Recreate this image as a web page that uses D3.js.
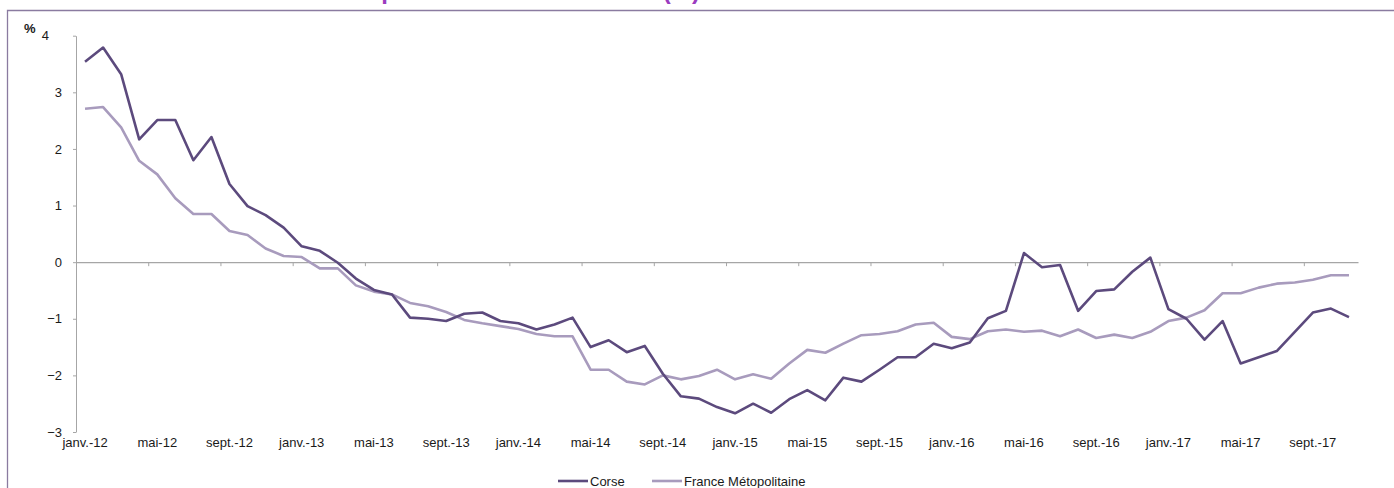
<!DOCTYPE html>
<html>
<head>
<meta charset="utf-8">
<script src="https://cdn.jsdelivr.net/npm/d3@7"></script>
<style>
  body { margin: 0; background: #fff; }
  svg { display: block; font-family: "Liberation Sans", Arial, sans-serif; }
</style>
</head>
<body>
<div id="chart"></div>
<script>
// months (janv.-12 .. nov.-17)
var monthNames = ["janv.", "févr.", "mars", "avr.", "mai", "juin", "juil.", "août", "sept.", "oct.", "nov.", "déc."];
var years = ["12", "13", "14", "15", "16", "17"];
var months = [];
years.forEach(function(y) {
  monthNames.forEach(function(m) { months.push(m + "-" + y); });
});
months = months.slice(0, 71);

// series values (%)
var corse = [3.54, 3.79, 3.32, 2.17, 2.51, 2.51, 1.80, 2.21, 1.38, 0.99, 0.83, 0.61,
             0.28, 0.20, -0.01, -0.29, -0.49, -0.57, -0.98, -1.00, -1.04, -0.91, -0.89, -1.04,
             -1.08, -1.19, -1.10, -0.98, -1.50, -1.38, -1.59, -1.48, -1.97, -2.37, -2.41, -2.56,
             -2.67, -2.50, -2.66, -2.42, -2.26, -2.44, -2.04, -2.11, -1.90, -1.68, -1.68, -1.44,
             -1.52, -1.42, -0.99, -0.86, 0.16, -0.09, -0.05, -0.86, -0.51, -0.48, -0.17, 0.08,
             -0.83, -1.00, -1.37, -1.04, -1.79, -1.68, -1.57, -1.23, -0.89, -0.82, -0.97];
var france = [2.71, 2.74, 2.38, 1.79, 1.55, 1.13, 0.85, 0.85, 0.55, 0.48, 0.24, 0.11,
              0.09, -0.11, -0.11, -0.41, -0.52, -0.57, -0.72, -0.78, -0.88, -1.02, -1.08, -1.13,
              -1.18, -1.27, -1.31, -1.31, -1.90, -1.90, -2.11, -2.16, -2.00, -2.07, -2.01, -1.90,
              -2.07, -1.98, -2.06, -1.79, -1.55, -1.60, -1.44, -1.29, -1.27, -1.22, -1.10, -1.07,
              -1.32, -1.36, -1.22, -1.19, -1.23, -1.21, -1.31, -1.19, -1.34, -1.28, -1.34, -1.23,
              -1.04, -0.98, -0.85, -0.55, -0.55, -0.45, -0.38, -0.36, -0.31, -0.23, -0.23];
var yTicks = [-3, -2, -1, 0, 1, 2, 3, 4];
var seriesNames = ["Corse", "France Métopolitaine"];
var seriesColors = ["#5c4a7d", "#a89bbd"];

var W = 1394, H = 488;
var svg = d3.select("#chart").append("svg")
    .attr("width", W)
    .attr("height", H);

// frame and title (cut off by the top edge, as in the picture)
svg.append("text")
    .attr("x", 700)
    .attr("y", -1)
    .attr("text-anchor", "end")
    .attr("fill", "#9b3cbf")
    .style("font-size", "24px")
    .style("font-weight", "bold")
    .text("Comparaison des évolutions (%)");
svg.append("path")
    .attr("d", "M7.5," + H + "V10.5H" + (W + 2))
    .attr("fill", "none")
    .attr("stroke", "#8a7ba0")
    .attr("stroke-width", 1.3);

var x = d3.scaleBand().domain(months).range([76, 1358]).paddingInner(0).paddingOuter(0);
var xl = d3.scaleLinear().domain([0, months.length]).range([76, 1358]);
var y = d3.scaleLinear().domain([-3, 4]).range([432, 35.7]);

// y axis
var yAxis = svg.append("g")
    .attr("transform", "translate(76,0)")
    .call(d3.axisLeft(y).tickValues(yTicks).tickFormat(d3.format("d"))
      .tickSize(3).tickPadding(11).tickSizeOuter(0));
yAxis.select(".domain").attr("stroke", "#a6a6a6");
yAxis.selectAll(".tick line").attr("stroke", "#a6a6a6");
yAxis.selectAll(".tick text")
    .style("font-size", "13px")
    .attr("fill", "#1a1a1a")
    .attr("dx", function(d) { return d === 4 ? -13 : 0; });

svg.append("text")
    .attr("x", 24)
    .attr("y", 33)
    .style("font-size", "13px")
    .style("font-weight", "bold")
    .attr("fill", "#1a1a1a")
    .text("%");

// zero axis with ticks every 4 months
var zAxis = svg.append("g")
    .attr("transform", "translate(0," + y(0) + ")")
    .call(d3.axisBottom(xl)
      .tickValues(d3.range(0, months.length, 4))
      .tickSize(4).tickSizeOuter(0).tickFormat(""));
zAxis.select(".domain").attr("stroke", "#a6a6a6").attr("stroke-width", 1.3);
zAxis.selectAll(".tick line").attr("stroke", "#a6a6a6");

// month labels at the bottom
var lAxis = svg.append("g")
    .attr("transform", "translate(0,436)")
    .call(d3.axisBottom(x)
      .tickValues(months.filter(function(d, i) { return i % 4 === 0; }))
      .tickSize(0).tickPadding(2));
lAxis.select(".domain").remove();
lAxis.selectAll(".tick text")
    .style("font-size", "13px")
    .attr("fill", "#1a1a1a");

// lines
var line = d3.line()
    .x(function(d, i) { return x(months[i]) + x.bandwidth() / 2; })
    .y(function(d) { return y(d); });

svg.append("path")
    .datum(france)
    .attr("fill", "none")
    .attr("stroke", seriesColors[1])
    .attr("stroke-width", 2.6)
    .attr("stroke-linejoin", "round")
    .attr("d", line);

svg.append("path")
    .datum(corse)
    .attr("fill", "none")
    .attr("stroke", seriesColors[0])
    .attr("stroke-width", 2.6)
    .attr("stroke-linejoin", "round")
    .attr("d", line);

// legend
var legendX = [558, 652];
var legend = svg.selectAll(".legend")
    .data(seriesNames)
    .enter().append("g")
    .attr("transform", function(d, i) { return "translate(" + legendX[i] + ",481)"; });
legend.append("line")
    .attr("x1", 0).attr("x2", 30)
    .attr("stroke", function(d, i) { return seriesColors[i]; })
    .attr("stroke-width", 2.6);
legend.append("text")
    .attr("x", 32)
    .attr("y", 5)
    .style("font-size", "13px")
    .attr("fill", "#1a1a1a")
    .text(function(d) { return d; });
</script>
</body>
</html>
